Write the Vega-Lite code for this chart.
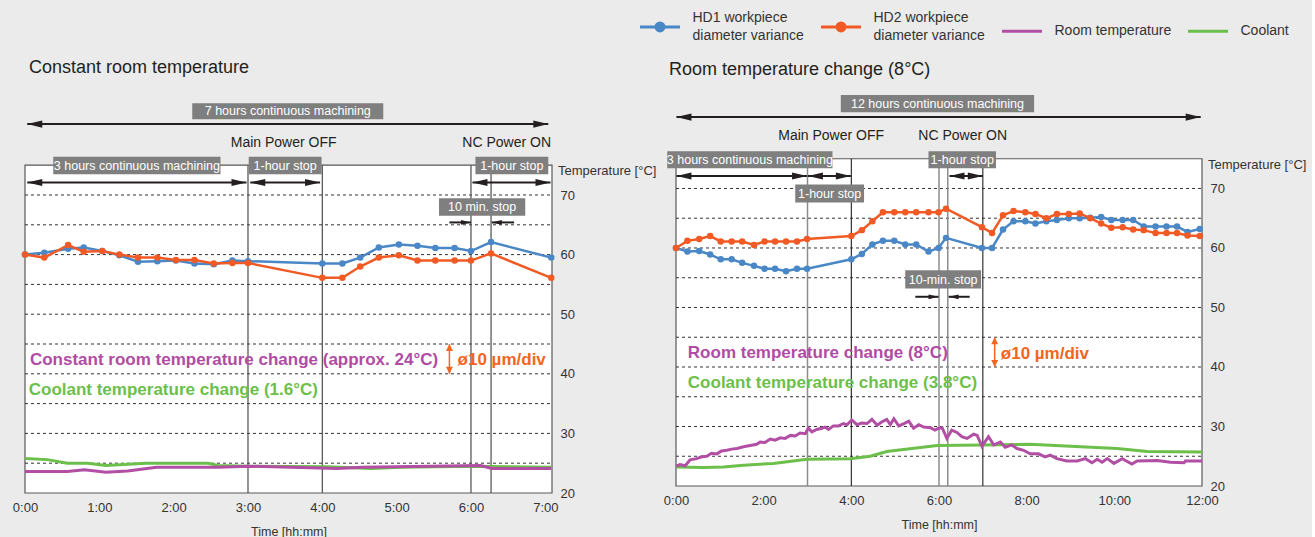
{
"$schema":"https://vega.github.io/schema/vega-lite/v6.json",
"background":"#ebebeb",
"padding":{"left":12,"top":5,"right":5,"bottom":5},
"bounds":"flush",
"spacing":124,
"config":{"view":{"stroke":null},"font":"Liberation Sans","axis":{"labelFont":"Liberation Sans","titleFont":"Liberation Sans"},"legend":{"labelFont":"Liberation Sans"},"text":{"font":"Liberation Sans"},"title":{"font":"Liberation Sans"}},
"datasets":{
"grid":[{"v":25},{"v":30},{"v":35},{"v":40},{"v":45},{"v":50},{"v":55},{"v":60},{"v":65},{"v":70}],
"L_v":[{"t":3},{"t":4},{"t":6},{"t":6.27}],
"R_vg":[{"t":3},{"t":6},{"t":6.2}],
"R_vd":[{"t":4},{"t":7}],
"L_hd":[
{"t":0,"v":60.0,"s":"HD1 workpiece diameter variance"},{"t":0.26,"v":60.3,"s":"HD1 workpiece diameter variance"},{"t":0.58,"v":61.0,"s":"HD1 workpiece diameter variance"},{"t":0.79,"v":61.2,"s":"HD1 workpiece diameter variance"},{"t":1.04,"v":60.6,"s":"HD1 workpiece diameter variance"},{"t":1.27,"v":59.9,"s":"HD1 workpiece diameter variance"},{"t":1.52,"v":58.8,"s":"HD1 workpiece diameter variance"},{"t":1.78,"v":58.9,"s":"HD1 workpiece diameter variance"},{"t":2.03,"v":59.0,"s":"HD1 workpiece diameter variance"},{"t":2.28,"v":58.5,"s":"HD1 workpiece diameter variance"},{"t":2.54,"v":58.4,"s":"HD1 workpiece diameter variance"},{"t":2.79,"v":59.0,"s":"HD1 workpiece diameter variance"},{"t":3.0,"v":58.9,"s":"HD1 workpiece diameter variance"},{"t":4.0,"v":58.5,"s":"HD1 workpiece diameter variance"},{"t":4.27,"v":58.5,"s":"HD1 workpiece diameter variance"},{"t":4.51,"v":59.5,"s":"HD1 workpiece diameter variance"},{"t":4.76,"v":61.2,"s":"HD1 workpiece diameter variance"},{"t":5.03,"v":61.7,"s":"HD1 workpiece diameter variance"},{"t":5.28,"v":61.5,"s":"HD1 workpiece diameter variance"},{"t":5.52,"v":61.1,"s":"HD1 workpiece diameter variance"},{"t":5.78,"v":61.1,"s":"HD1 workpiece diameter variance"},{"t":6.0,"v":60.6,"s":"HD1 workpiece diameter variance"},{"t":6.27,"v":62.1,"s":"HD1 workpiece diameter variance"},{"t":7.08,"v":59.5,"s":"HD1 workpiece diameter variance"},
{"t":0,"v":60.0,"s":"HD2 workpiece diameter variance"},{"t":0.26,"v":59.5,"s":"HD2 workpiece diameter variance"},{"t":0.58,"v":61.6,"s":"HD2 workpiece diameter variance"},{"t":0.79,"v":60.5,"s":"HD2 workpiece diameter variance"},{"t":1.04,"v":60.6,"s":"HD2 workpiece diameter variance"},{"t":1.27,"v":60.0,"s":"HD2 workpiece diameter variance"},{"t":1.52,"v":59.5,"s":"HD2 workpiece diameter variance"},{"t":1.78,"v":59.5,"s":"HD2 workpiece diameter variance"},{"t":2.03,"v":59.1,"s":"HD2 workpiece diameter variance"},{"t":2.28,"v":59.1,"s":"HD2 workpiece diameter variance"},{"t":2.54,"v":58.5,"s":"HD2 workpiece diameter variance"},{"t":2.79,"v":58.6,"s":"HD2 workpiece diameter variance"},{"t":3.0,"v":58.6,"s":"HD2 workpiece diameter variance"},{"t":4.0,"v":56.1,"s":"HD2 workpiece diameter variance"},{"t":4.27,"v":56.1,"s":"HD2 workpiece diameter variance"},{"t":4.51,"v":58.0,"s":"HD2 workpiece diameter variance"},{"t":4.76,"v":59.5,"s":"HD2 workpiece diameter variance"},{"t":5.03,"v":59.9,"s":"HD2 workpiece diameter variance"},{"t":5.28,"v":59.0,"s":"HD2 workpiece diameter variance"},{"t":5.52,"v":59.0,"s":"HD2 workpiece diameter variance"},{"t":5.78,"v":59.0,"s":"HD2 workpiece diameter variance"},{"t":6.0,"v":59.0,"s":"HD2 workpiece diameter variance"},{"t":6.27,"v":60.2,"s":"HD2 workpiece diameter variance"},{"t":7.08,"v":56.1,"s":"HD2 workpiece diameter variance"}],
"L_temp":[
{"t":0,"v":25.8,"s":"Coolant"},{"t":0.3,"v":25.6,"s":"Coolant"},{"t":0.57,"v":25.0,"s":"Coolant"},{"t":0.84,"v":25.0,"s":"Coolant"},{"t":1.09,"v":24.6,"s":"Coolant"},{"t":1.63,"v":25.0,"s":"Coolant"},{"t":2.46,"v":25.0,"s":"Coolant"},{"t":2.6,"v":24.6,"s":"Coolant"},{"t":3.0,"v":24.5,"s":"Coolant"},{"t":4.07,"v":24.4,"s":"Coolant"},{"t":4.66,"v":24.1,"s":"Coolant"},{"t":5.05,"v":24.3,"s":"Coolant"},{"t":6.03,"v":24.5,"s":"Coolant"},{"t":7.08,"v":24.3,"s":"Coolant"},
{"t":0,"v":23.6,"s":"Room temperature"},{"t":0.57,"v":23.6,"s":"Room temperature"},{"t":0.8,"v":23.9,"s":"Room temperature"},{"t":1.09,"v":23.5,"s":"Room temperature"},{"t":1.38,"v":23.7,"s":"Room temperature"},{"t":1.77,"v":24.3,"s":"Room temperature"},{"t":2.6,"v":24.3,"s":"Room temperature"},{"t":3.0,"v":24.5,"s":"Room temperature"},{"t":4.2,"v":24.1,"s":"Room temperature"},{"t":4.54,"v":24.3,"s":"Room temperature"},{"t":6.13,"v":24.6,"s":"Room temperature"},{"t":6.28,"v":24.1,"s":"Room temperature"},{"t":7.08,"v":24.1,"s":"Room temperature"}],
"R_hd":[
{"t":0,"v":60.0,"s":"HD1 workpiece diameter variance"},{"t":0.26,"v":59.4,"s":"HD1 workpiece diameter variance"},{"t":0.53,"v":59.5,"s":"HD1 workpiece diameter variance"},{"t":0.78,"v":58.9,"s":"HD1 workpiece diameter variance"},{"t":1.02,"v":58.1,"s":"HD1 workpiece diameter variance"},{"t":1.27,"v":58.1,"s":"HD1 workpiece diameter variance"},{"t":1.51,"v":57.5,"s":"HD1 workpiece diameter variance"},{"t":1.78,"v":57.0,"s":"HD1 workpiece diameter variance"},{"t":2.02,"v":56.5,"s":"HD1 workpiece diameter variance"},{"t":2.26,"v":56.5,"s":"HD1 workpiece diameter variance"},{"t":2.51,"v":56.1,"s":"HD1 workpiece diameter variance"},{"t":2.76,"v":56.5,"s":"HD1 workpiece diameter variance"},{"t":2.99,"v":56.5,"s":"HD1 workpiece diameter variance"},{"t":4.0,"v":58.1,"s":"HD1 workpiece diameter variance"},{"t":4.24,"v":59.0,"s":"HD1 workpiece diameter variance"},{"t":4.48,"v":60.6,"s":"HD1 workpiece diameter variance"},{"t":4.72,"v":61.2,"s":"HD1 workpiece diameter variance"},{"t":4.98,"v":61.2,"s":"HD1 workpiece diameter variance"},{"t":5.23,"v":60.6,"s":"HD1 workpiece diameter variance"},{"t":5.48,"v":60.6,"s":"HD1 workpiece diameter variance"},{"t":5.76,"v":59.4,"s":"HD1 workpiece diameter variance"},{"t":5.99,"v":60.0,"s":"HD1 workpiece diameter variance"},{"t":6.16,"v":61.7,"s":"HD1 workpiece diameter variance"},{"t":6.98,"v":60.0,"s":"HD1 workpiece diameter variance"},{"t":7.21,"v":60.0,"s":"HD1 workpiece diameter variance"},{"t":7.46,"v":63.1,"s":"HD1 workpiece diameter variance"},{"t":7.7,"v":64.5,"s":"HD1 workpiece diameter variance"},{"t":7.97,"v":64.5,"s":"HD1 workpiece diameter variance"},{"t":8.2,"v":64.1,"s":"HD1 workpiece diameter variance"},{"t":8.45,"v":64.5,"s":"HD1 workpiece diameter variance"},{"t":8.69,"v":64.7,"s":"HD1 workpiece diameter variance"},{"t":8.96,"v":65.0,"s":"HD1 workpiece diameter variance"},{"t":9.21,"v":65.0,"s":"HD1 workpiece diameter variance"},{"t":9.45,"v":65.1,"s":"HD1 workpiece diameter variance"},{"t":9.7,"v":65.2,"s":"HD1 workpiece diameter variance"},{"t":9.93,"v":64.7,"s":"HD1 workpiece diameter variance"},{"t":10.19,"v":64.7,"s":"HD1 workpiece diameter variance"},{"t":10.43,"v":64.7,"s":"HD1 workpiece diameter variance"},{"t":10.67,"v":63.6,"s":"HD1 workpiece diameter variance"},{"t":10.94,"v":63.6,"s":"HD1 workpiece diameter variance"},{"t":11.19,"v":63.6,"s":"HD1 workpiece diameter variance"},{"t":11.43,"v":63.6,"s":"HD1 workpiece diameter variance"},{"t":11.67,"v":62.7,"s":"HD1 workpiece diameter variance"},{"t":11.95,"v":63.2,"s":"HD1 workpiece diameter variance"},
{"t":0,"v":60.0,"s":"HD2 workpiece diameter variance"},{"t":0.26,"v":61.2,"s":"HD2 workpiece diameter variance"},{"t":0.53,"v":61.5,"s":"HD2 workpiece diameter variance"},{"t":0.78,"v":62.0,"s":"HD2 workpiece diameter variance"},{"t":1.02,"v":61.1,"s":"HD2 workpiece diameter variance"},{"t":1.27,"v":61.1,"s":"HD2 workpiece diameter variance"},{"t":1.51,"v":61.1,"s":"HD2 workpiece diameter variance"},{"t":1.78,"v":60.5,"s":"HD2 workpiece diameter variance"},{"t":2.02,"v":61.1,"s":"HD2 workpiece diameter variance"},{"t":2.26,"v":61.1,"s":"HD2 workpiece diameter variance"},{"t":2.51,"v":61.1,"s":"HD2 workpiece diameter variance"},{"t":2.76,"v":61.1,"s":"HD2 workpiece diameter variance"},{"t":2.99,"v":61.5,"s":"HD2 workpiece diameter variance"},{"t":4.0,"v":62.0,"s":"HD2 workpiece diameter variance"},{"t":4.24,"v":63.0,"s":"HD2 workpiece diameter variance"},{"t":4.48,"v":64.5,"s":"HD2 workpiece diameter variance"},{"t":4.72,"v":66.0,"s":"HD2 workpiece diameter variance"},{"t":4.98,"v":66.0,"s":"HD2 workpiece diameter variance"},{"t":5.23,"v":66.0,"s":"HD2 workpiece diameter variance"},{"t":5.48,"v":66.0,"s":"HD2 workpiece diameter variance"},{"t":5.76,"v":66.0,"s":"HD2 workpiece diameter variance"},{"t":5.99,"v":66.0,"s":"HD2 workpiece diameter variance"},{"t":6.16,"v":66.6,"s":"HD2 workpiece diameter variance"},{"t":6.98,"v":63.5,"s":"HD2 workpiece diameter variance"},{"t":7.21,"v":62.5,"s":"HD2 workpiece diameter variance"},{"t":7.46,"v":65.5,"s":"HD2 workpiece diameter variance"},{"t":7.7,"v":66.2,"s":"HD2 workpiece diameter variance"},{"t":7.97,"v":66.0,"s":"HD2 workpiece diameter variance"},{"t":8.2,"v":65.7,"s":"HD2 workpiece diameter variance"},{"t":8.45,"v":65.0,"s":"HD2 workpiece diameter variance"},{"t":8.69,"v":65.7,"s":"HD2 workpiece diameter variance"},{"t":8.96,"v":65.7,"s":"HD2 workpiece diameter variance"},{"t":9.21,"v":65.8,"s":"HD2 workpiece diameter variance"},{"t":9.45,"v":65.0,"s":"HD2 workpiece diameter variance"},{"t":9.7,"v":64.1,"s":"HD2 workpiece diameter variance"},{"t":9.93,"v":63.4,"s":"HD2 workpiece diameter variance"},{"t":10.19,"v":63.5,"s":"HD2 workpiece diameter variance"},{"t":10.43,"v":63.1,"s":"HD2 workpiece diameter variance"},{"t":10.67,"v":63.0,"s":"HD2 workpiece diameter variance"},{"t":10.94,"v":62.5,"s":"HD2 workpiece diameter variance"},{"t":11.19,"v":62.5,"s":"HD2 workpiece diameter variance"},{"t":11.43,"v":62.5,"s":"HD2 workpiece diameter variance"},{"t":11.67,"v":62.1,"s":"HD2 workpiece diameter variance"},{"t":11.95,"v":62.0,"s":"HD2 workpiece diameter variance"}],
"R_temp":[
{"t":0,"v":23.2,"s":"Coolant"},{"t":0.62,"v":23.1,"s":"Coolant"},{"t":1.08,"v":23.2,"s":"Coolant"},{"t":1.54,"v":23.5,"s":"Coolant"},{"t":2.22,"v":23.8,"s":"Coolant"},{"t":2.99,"v":24.5,"s":"Coolant"},{"t":3.98,"v":24.6,"s":"Coolant"},{"t":4.43,"v":25.0,"s":"Coolant"},{"t":4.81,"v":25.8,"s":"Coolant"},{"t":5.96,"v":26.8,"s":"Coolant"},{"t":7.0,"v":26.9,"s":"Coolant"},{"t":8.08,"v":27.0,"s":"Coolant"},{"t":9.23,"v":26.6,"s":"Coolant"},{"t":10.07,"v":26.3,"s":"Coolant"},{"t":10.75,"v":25.8,"s":"Coolant"},{"t":12.0,"v":25.7,"s":"Coolant"},
{"t":0,"v":23.35,"s":"Room temperature"},{"t":0.09,"v":23.6,"s":"Room temperature"},{"t":0.21,"v":23.4,"s":"Room temperature"},{"t":0.32,"v":24.4,"s":"Room temperature"},{"t":0.47,"v":24.6,"s":"Room temperature"},{"t":0.59,"v":24.9,"s":"Room temperature"},{"t":0.7,"v":25.0,"s":"Room temperature"},{"t":0.81,"v":25.5,"s":"Room temperature"},{"t":0.93,"v":25.4,"s":"Room temperature"},{"t":1.04,"v":25.9,"s":"Room temperature"},{"t":1.16,"v":26.0,"s":"Room temperature"},{"t":1.27,"v":26.2,"s":"Room temperature"},{"t":1.39,"v":26.3,"s":"Room temperature"},{"t":1.54,"v":26.6,"s":"Room temperature"},{"t":1.69,"v":26.8,"s":"Room temperature"},{"t":1.84,"v":27.0,"s":"Room temperature"},{"t":1.92,"v":27.4,"s":"Room temperature"},{"t":2.03,"v":27.3,"s":"Room temperature"},{"t":2.15,"v":27.9,"s":"Room temperature"},{"t":2.26,"v":27.7,"s":"Room temperature"},{"t":2.38,"v":28.1,"s":"Room temperature"},{"t":2.49,"v":28.0,"s":"Room temperature"},{"t":2.61,"v":28.5,"s":"Room temperature"},{"t":2.72,"v":28.4,"s":"Room temperature"},{"t":2.83,"v":28.9,"s":"Room temperature"},{"t":2.95,"v":28.8,"s":"Room temperature"},{"t":3.02,"v":29.7,"s":"Room temperature"},{"t":3.1,"v":29.1,"s":"Room temperature"},{"t":3.21,"v":29.5,"s":"Room temperature"},{"t":3.33,"v":29.7,"s":"Room temperature"},{"t":3.4,"v":29.9,"s":"Room temperature"},{"t":3.48,"v":29.5,"s":"Room temperature"},{"t":3.59,"v":30.1,"s":"Room temperature"},{"t":3.71,"v":30.1,"s":"Room temperature"},{"t":3.82,"v":30.5,"s":"Room temperature"},{"t":3.9,"v":30.3,"s":"Room temperature"},{"t":4.01,"v":31.1,"s":"Room temperature"},{"t":4.13,"v":30.3,"s":"Room temperature"},{"t":4.24,"v":30.6,"s":"Room temperature"},{"t":4.36,"v":30.5,"s":"Room temperature"},{"t":4.47,"v":31.2,"s":"Room temperature"},{"t":4.59,"v":30.2,"s":"Room temperature"},{"t":4.7,"v":30.8,"s":"Room temperature"},{"t":4.81,"v":31.2,"s":"Room temperature"},{"t":4.89,"v":30.3,"s":"Room temperature"},{"t":4.97,"v":31.3,"s":"Room temperature"},{"t":5.08,"v":30.1,"s":"Room temperature"},{"t":5.2,"v":30.5,"s":"Room temperature"},{"t":5.31,"v":30.9,"s":"Room temperature"},{"t":5.42,"v":29.7,"s":"Room temperature"},{"t":5.54,"v":30.3,"s":"Room temperature"},{"t":5.65,"v":29.9,"s":"Room temperature"},{"t":5.8,"v":29.8,"s":"Room temperature"},{"t":5.91,"v":29.4,"s":"Room temperature"},{"t":5.99,"v":29.7,"s":"Room temperature"},{"t":6.07,"v":29.8,"s":"Room temperature"},{"t":6.18,"v":28.0,"s":"Room temperature"},{"t":6.29,"v":29.4,"s":"Room temperature"},{"t":6.41,"v":29.0,"s":"Room temperature"},{"t":6.52,"v":28.3,"s":"Room temperature"},{"t":6.64,"v":28.0,"s":"Room temperature"},{"t":6.79,"v":28.7,"s":"Room temperature"},{"t":6.87,"v":28.5,"s":"Room temperature"},{"t":6.98,"v":26.7,"s":"Room temperature"},{"t":7.13,"v":28.3,"s":"Room temperature"},{"t":7.25,"v":26.9,"s":"Room temperature"},{"t":7.4,"v":27.4,"s":"Room temperature"},{"t":7.51,"v":26.5,"s":"Room temperature"},{"t":7.66,"v":26.9,"s":"Room temperature"},{"t":7.78,"v":26.3,"s":"Room temperature"},{"t":7.93,"v":26.0,"s":"Room temperature"},{"t":8.08,"v":25.4,"s":"Room temperature"},{"t":8.27,"v":25.4,"s":"Room temperature"},{"t":8.42,"v":24.9,"s":"Room temperature"},{"t":8.54,"v":25.2,"s":"Room temperature"},{"t":8.69,"v":24.6,"s":"Room temperature"},{"t":8.92,"v":24.2,"s":"Room temperature"},{"t":9.15,"v":24.2,"s":"Room temperature"},{"t":9.34,"v":24.6,"s":"Room temperature"},{"t":9.49,"v":23.9,"s":"Room temperature"},{"t":9.61,"v":24.5,"s":"Room temperature"},{"t":9.72,"v":24.0,"s":"Room temperature"},{"t":9.84,"v":24.6,"s":"Room temperature"},{"t":9.99,"v":23.8,"s":"Room temperature"},{"t":10.18,"v":24.6,"s":"Room temperature"},{"t":10.4,"v":23.7,"s":"Room temperature"},{"t":10.52,"v":24.2,"s":"Room temperature"},{"t":10.98,"v":24.3,"s":"Room temperature"},{"t":11.28,"v":24.0,"s":"Room temperature"},{"t":11.59,"v":23.9,"s":"Room temperature"},{"t":11.62,"v":24.2,"s":"Room temperature"},{"t":11.81,"v":24.2,"s":"Room temperature"},{"t":12.0,"v":24.2,"s":"Room temperature"}],
"L_box":[
{"a":2.25,"b":4.82,"y1":82.7,"y2":85.4,"mx":3.535,"my":84.05,"label":"7 hours continuous machining"},
{"a":0.38,"b":2.63,"y1":73.5,"y2":76.4,"mx":1.505,"my":74.95,"label":"3 hours continuous machining"},
{"a":3.01,"b":3.99,"y1":73.5,"y2":76.4,"mx":3.5,"my":74.95,"label":"1-hour stop"},
{"a":6.06,"b":7.04,"y1":73.5,"y2":76.4,"mx":6.55,"my":74.95,"label":"1-hour stop"},
{"a":5.57,"b":6.73,"y1":66.5,"y2":69.45,"mx":6.15,"my":67.97,"label":"10 min. stop"}],
"L_arr":[
{"a":0.03,"b":7.04,"y":81.9,"both":true,"small":false},
{"a":0.03,"b":2.98,"y":72.1,"both":true,"small":false},
{"a":3.03,"b":3.97,"y":72.1,"both":true,"small":false},
{"a":6.02,"b":7.07,"y":72.1,"both":true,"small":false},
{"a":5.71,"b":6.0,"y":65.4,"both":false,"small":true},
{"a":6.58,"b":6.28,"y":65.4,"both":false,"small":true}],
"L_note":[{"t":3.48,"v":78.8,"label":"Main Power OFF"},{"t":6.48,"v":78.8,"label":"NC Power ON"}],
"L_col":[
{"t":0.066,"v":42.3,"kind":"room","label":"Constant room temperature change (approx. 24°C)"},
{"t":0.05,"v":37.3,"kind":"coolant","label":"Coolant temperature change (1.6°C)"},
{"t":5.82,"v":42.3,"kind":"scale","label":"ø10 µm/div"}],
"L_sc":[{"t":5.71,"lo":40,"hi":45}],
"R_box":[
{"a":3.76,"b":8.17,"y1":82.8,"y2":85.7,"mx":5.965,"my":84.25,"label":"12 hours continuous machining"},
{"a":-0.2,"b":3.57,"y1":73.4,"y2":76.25,"mx":1.685,"my":74.8,"label":"3 hours continuous machining"},
{"a":5.76,"b":7.3,"y1":73.4,"y2":76.25,"mx":6.53,"my":74.8,"label":"1-hour stop"},
{"a":2.72,"b":4.29,"y1":67.63,"y2":70.65,"mx":3.505,"my":69.14,"label":"1-hour stop"},
{"a":5.23,"b":6.96,"y1":53.2,"y2":56.25,"mx":6.095,"my":54.7,"label":"10-min. stop"}],
"R_arr":[
{"a":0.01,"b":11.97,"y":82.0,"both":true,"small":false},
{"a":0.01,"b":2.99,"y":72.1,"both":true,"small":false},
{"a":3.01,"b":3.99,"y":72.1,"both":true,"small":false},
{"a":6.24,"b":7.0,"y":72.1,"both":true,"small":false},
{"a":5.46,"b":5.99,"y":51.8,"both":false,"small":true},
{"a":6.7,"b":6.22,"y":51.8,"both":false,"small":true}],
"R_note":[{"t":3.54,"v":78.9,"label":"Main Power OFF"},{"t":6.54,"v":78.9,"label":"NC Power ON"}],
"R_col":[
{"t":0.27,"v":42.3,"kind":"room","label":"Room temperature change (8°C)"},
{"t":0.27,"v":37.3,"kind":"coolant","label":"Coolant temperature change (3.8°C)"},
{"t":7.41,"v":42.1,"kind":"scale","label":"ø10 µm/div"}],
"R_sc":[{"t":7.27,"lo":40,"hi":45}]
},
"hconcat":[
{
"width":527,"height":403,
"title":{"text":"Constant room temperature","anchor":"start","frame":"group","baseline":"middle","offset":3.7,"dx":4,"fontSize":18,"fontWeight":"normal","color":"#231f20"},
"layer":[
{"data":{"values":[{}]},"mark":{"type":"rect","fill":"white","stroke":"#595959","strokeWidth":1.2},
"encoding":{"x":{"datum":0,"type":"quantitative","scale":{"domain":[0,7.09],"nice":false,"zero":false}},
"x2":{"datum":7.09},
"y":{"datum":20,"type":"quantitative","scale":{"domain":[20,87.62],"nice":false,"zero":false}},
"y2":{"datum":75}}},
{"data":{"name":"grid"},"mark":{"type":"rule","strokeDash":[3,3],"color":"#333","strokeWidth":1},
"encoding":{"y":{"field":"v","type":"quantitative","scale":{"domain":[20,87.62],"nice":false,"zero":false}},"x":{"datum":0,"type":"quantitative","scale":{"domain":[0,7.09],"nice":false,"zero":false}},"x2":{"datum":7.09}}},
{"data":{"name":"L_v"},"mark":{"type":"rule","color":"#4d4d4d","strokeWidth":1.2},
"encoding":{"x":{"field":"t","type":"quantitative","scale":{"domain":[0,7.09],"nice":false,"zero":false}},"y":{"datum":20,"type":"quantitative","scale":{"domain":[20,87.62],"nice":false,"zero":false}},"y2":{"datum":75}}},
{"data":{"name":"L_temp"},"mark":{"type":"line","strokeWidth":3},
"encoding":{"x":{"field":"t","type":"quantitative","scale":{"domain":[0,7.09],"nice":false,"zero":false},"axis":{"values":[0,1,2,3,4,5,6,7],"labelExpr":"datum.value + ':00'","title":"Time [hh:mm]","domain":false,"ticks":false,"grid":false,"labelPadding":8,"labelFontSize":13,"labelColor":"#333","labelFlush":false,"titleFontSize":12.5,"titleFontWeight":"normal","titleColor":"#333","titlePadding":11}},
"y":{"field":"v","type":"quantitative","scale":{"domain":[20,87.62],"nice":false,"zero":false},"axis":{"orient":"right","values":[20,30,40,50,60,70],"title":null,"domain":false,"ticks":false,"grid":false,"labelPadding":8,"labelFontSize":13,"labelColor":"#333"}},
"color":{"field":"s","type":"nominal","scale":{"domain":["HD1 workpiece diameter variance","HD2 workpiece diameter variance","Room temperature","Coolant"],"range":["#4a87c6","#f15a24","#b24fa5","#6cbf4a"]},"legend":{"orient":"none","legendX":613.5,"legendY":-85,"direction":"horizontal","columns":4,"title":null,"labelFontSize":14,"labelColor":"#333","labelLimit":400,"symbolSize":1600,"symbolStrokeWidth":3,"columnPadding":10,"labelOffset":11,"labelExpr":"datum.label == 'Room temperature' || datum.label == 'Coolant' ? datum.label : [substring(datum.label, 0, 13), substring(datum.label, 14)]","encode":{"labels":{"update":{"lineHeight":{"value":17.5},"dy":{"signal":"datum.value == 'Room temperature' || datum.value == 'Coolant' ? 0 : -8.75"}}},"symbols":{"update":{"shape":{"signal":"datum.value == 'Room temperature' || datum.value == 'Coolant' ? 'M-1,0H1' : 'M-1,0H1M-0.2,0A0.2,0.2 0 1,1 0.2,0A0.2,0.2 0 1,1 -0.2,0Z'"},"fill":{"signal":"datum.value == 'Room temperature' || datum.value == 'Coolant' ? 'transparent' : scale('color', datum.value)"}}}}}}}},
{"data":{"name":"L_hd"},"mark":{"type":"line","strokeWidth":2.5,"point":{"filled":true,"size":42}},
"encoding":{"x":{"field":"t","type":"quantitative","scale":{"domain":[0,7.09],"nice":false,"zero":false}},"y":{"field":"v","type":"quantitative","scale":{"domain":[20,87.62],"nice":false,"zero":false}},
"color":{"field":"s","type":"nominal","scale":{"domain":["HD1 workpiece diameter variance","HD2 workpiece diameter variance","Room temperature","Coolant"],"range":["#4a87c6","#f15a24","#b24fa5","#6cbf4a"]},"legend":{"orient":"none","legendX":613.5,"legendY":-85,"direction":"horizontal","columns":4,"title":null,"labelFontSize":14,"labelColor":"#333","labelLimit":400,"symbolSize":1600,"symbolStrokeWidth":3,"columnPadding":10,"labelOffset":11,"labelExpr":"datum.label == 'Room temperature' || datum.label == 'Coolant' ? datum.label : [substring(datum.label, 0, 13), substring(datum.label, 14)]","encode":{"labels":{"update":{"lineHeight":{"value":17.5},"dy":{"signal":"datum.value == 'Room temperature' || datum.value == 'Coolant' ? 0 : -8.75"}}},"symbols":{"update":{"shape":{"signal":"datum.value == 'Room temperature' || datum.value == 'Coolant' ? 'M-1,0H1' : 'M-1,0H1M-0.2,0A0.2,0.2 0 1,1 0.2,0A0.2,0.2 0 1,1 -0.2,0Z'"},"fill":{"signal":"datum.value == 'Room temperature' || datum.value == 'Coolant' ? 'transparent' : scale('color', datum.value)"}}}}}}}},
{"data":{"name":"L_box"},"mark":{"type":"rect","fill":"#7f7f7f"},
"encoding":{"x":{"field":"a","type":"quantitative","scale":{"domain":[0,7.09],"nice":false,"zero":false}},"x2":{"field":"b"},"y":{"field":"y1","type":"quantitative","scale":{"domain":[20,87.62],"nice":false,"zero":false}},"y2":{"field":"y2"}}},
{"data":{"name":"L_box"},"mark":{"type":"text","color":"white","fontSize":12.5,"align":"center","baseline":"middle"},
"encoding":{"x":{"field":"mx","type":"quantitative","scale":{"domain":[0,7.09],"nice":false,"zero":false}},"y":{"field":"my","type":"quantitative","scale":{"domain":[20,87.62],"nice":false,"zero":false}},"text":{"field":"label"}}},
{"data":{"name":"L_arr"},"mark":{"type":"rule","color":"#231f20","strokeWidth":2},
"encoding":{"x":{"field":"a","type":"quantitative","scale":{"domain":[0,7.09],"nice":false,"zero":false}},"x2":{"field":"b"},"y":{"field":"y","type":"quantitative","scale":{"domain":[20,87.62],"nice":false,"zero":false}}}},
{"data":{"name":"L_arr"},"mark":{"type":"point","filled":true,"color":"#231f20","opacity":1,"strokeWidth":0},
"encoding":{"x":{"field":"b","type":"quantitative","scale":{"domain":[0,7.09],"nice":false,"zero":false}},"y":{"field":"y","type":"quantitative","scale":{"domain":[20,87.62],"nice":false,"zero":false}},
"shape":{"condition":{"test":"datum.b > datum.a","value":"M0,0L-1,-0.24L-1,0.24Z"},"value":"M0,0L1,-0.24L1,0.24Z"},
"size":{"condition":{"test":"datum.small","value":400},"value":900}}},
{"data":{"name":"L_arr"},"transform":[{"filter":"datum.both"}],"mark":{"type":"point","filled":true,"color":"#231f20","opacity":1,"strokeWidth":0},
"encoding":{"x":{"field":"a","type":"quantitative","scale":{"domain":[0,7.09],"nice":false,"zero":false}},"y":{"field":"y","type":"quantitative","scale":{"domain":[20,87.62],"nice":false,"zero":false}},
"shape":{"condition":{"test":"datum.b > datum.a","value":"M0,0L1,-0.24L1,0.24Z"},"value":"M0,0L-1,-0.24L-1,0.24Z"},
"size":{"value":900}}},
{"data":{"name":"L_note"},"mark":{"type":"text","color":"#231f20","fontSize":14,"align":"center","baseline":"middle"},
"encoding":{"x":{"field":"t","type":"quantitative","scale":{"domain":[0,7.09],"nice":false,"zero":false}},"y":{"field":"v","type":"quantitative","scale":{"domain":[20,87.62],"nice":false,"zero":false}},"text":{"field":"label"}}},
{"data":{"name":"L_col"},"mark":{"type":"text","fontSize":17,"fontWeight":"bold","align":"left","baseline":"middle"},
"encoding":{"x":{"field":"t","type":"quantitative","scale":{"domain":[0,7.09],"nice":false,"zero":false}},"y":{"field":"v","type":"quantitative","scale":{"domain":[20,87.62],"nice":false,"zero":false}},"text":{"field":"label"},
"fill":{"field":"kind","type":"nominal","scale":{"domain":["room","coolant","scale"],"range":["#b04ca4","#6cbf4a","#f26522"]},"legend":null}}},
{"data":{"name":"L_sc"},"mark":{"type":"rule","color":"#f26522","strokeWidth":1.5},
"encoding":{"x":{"field":"t","type":"quantitative","scale":{"domain":[0,7.09],"nice":false,"zero":false}},"y":{"field":"lo","type":"quantitative","scale":{"domain":[20,87.62],"nice":false,"zero":false}},"y2":{"field":"hi"}}},
{"data":{"name":"L_sc"},"mark":{"type":"point","filled":true,"color":"#f26522","opacity":1,"strokeWidth":0,"shape":"M0,0L-0.5,1L0.5,1Z","size":196},
"encoding":{"x":{"field":"t","type":"quantitative","scale":{"domain":[0,7.09],"nice":false,"zero":false}},"y":{"field":"hi","type":"quantitative","scale":{"domain":[20,87.62],"nice":false,"zero":false}}}},
{"data":{"name":"L_sc"},"mark":{"type":"point","filled":true,"color":"#f26522","opacity":1,"strokeWidth":0,"shape":"M0,0L-0.5,-1L0.5,-1Z","size":196},
"encoding":{"x":{"field":"t","type":"quantitative","scale":{"domain":[0,7.09],"nice":false,"zero":false}},"y":{"field":"lo","type":"quantitative","scale":{"domain":[20,87.62],"nice":false,"zero":false}}}},
{"data":{"values":[{"label":"Temperature [°C]"}]},"mark":{"type":"text","align":"left","baseline":"middle","dx":6,"fontSize":13,"color":"#333"},
"encoding":{"x":{"datum":7.09,"type":"quantitative","scale":{"domain":[0,7.09],"nice":false,"zero":false}},"y":{"datum":74,"type":"quantitative","scale":{"domain":[20,87.62],"nice":false,"zero":false}},"text":{"field":"label"}}}
]},
{
"width":526,"height":396,
"title":{"text":"Room temperature change (8°C)","anchor":"start","frame":"group","baseline":"middle","offset":2,"dx":-7,"fontSize":18,"fontWeight":"normal","color":"#231f20"},
"layer":[
{"data":{"values":[{}]},"mark":{"type":"rect","fill":"white","stroke":"#595959","strokeWidth":1.2},
"encoding":{"x":{"datum":0,"type":"quantitative","scale":{"domain":[0,12],"nice":false,"zero":false}},
"x2":{"datum":12},
"y":{"datum":20,"type":"quantitative","scale":{"domain":[20,86.55],"nice":false,"zero":false}},
"y2":{"datum":75}}},
{"data":{"name":"grid"},"mark":{"type":"rule","strokeDash":[3,3],"color":"#333","strokeWidth":1},
"encoding":{"y":{"field":"v","type":"quantitative","scale":{"domain":[20,86.55],"nice":false,"zero":false}},"x":{"datum":0,"type":"quantitative","scale":{"domain":[0,12],"nice":false,"zero":false}},"x2":{"datum":12}}},
{"data":{"name":"R_vg"},"mark":{"type":"rule","color":"#8c8c8c","strokeWidth":1.5},
"encoding":{"x":{"field":"t","type":"quantitative","scale":{"domain":[0,12],"nice":false,"zero":false}},"y":{"datum":20,"type":"quantitative","scale":{"domain":[20,86.55],"nice":false,"zero":false}},"y2":{"datum":75}}},
{"data":{"name":"R_vd"},"mark":{"type":"rule","color":"#231f20","strokeWidth":1.1},
"encoding":{"x":{"field":"t","type":"quantitative","scale":{"domain":[0,12],"nice":false,"zero":false}},"y":{"datum":20,"type":"quantitative","scale":{"domain":[20,86.55],"nice":false,"zero":false}},"y2":{"datum":75}}},
{"data":{"name":"R_temp"},"mark":{"type":"line","strokeWidth":3},
"encoding":{"x":{"field":"t","type":"quantitative","scale":{"domain":[0,12],"nice":false,"zero":false},"axis":{"values":[0,2,4,6,8,10,12],"labelExpr":"datum.value + ':00'","title":"Time [hh:mm]","domain":false,"ticks":false,"grid":false,"labelPadding":8,"labelFontSize":13,"labelColor":"#333","labelFlush":false,"titleFontSize":12.5,"titleFontWeight":"normal","titleColor":"#333","titlePadding":11}},
"y":{"field":"v","type":"quantitative","scale":{"domain":[20,86.55],"nice":false,"zero":false},"axis":{"orient":"right","values":[20,30,40,50,60,70],"title":null,"domain":false,"ticks":false,"grid":false,"labelPadding":8,"labelFontSize":13,"labelColor":"#333"}},
"color":{"field":"s","type":"nominal","scale":{"domain":["HD1 workpiece diameter variance","HD2 workpiece diameter variance","Room temperature","Coolant"],"range":["#4a87c6","#f15a24","#b24fa5","#6cbf4a"]},"legend":{"orient":"none","legendX":613.5,"legendY":-85,"direction":"horizontal","columns":4,"title":null,"labelFontSize":14,"labelColor":"#333","labelLimit":400,"symbolSize":1600,"symbolStrokeWidth":3,"columnPadding":10,"labelOffset":11,"labelExpr":"datum.label == 'Room temperature' || datum.label == 'Coolant' ? datum.label : [substring(datum.label, 0, 13), substring(datum.label, 14)]","encode":{"labels":{"update":{"lineHeight":{"value":17.5},"dy":{"signal":"datum.value == 'Room temperature' || datum.value == 'Coolant' ? 0 : -8.75"}}},"symbols":{"update":{"shape":{"signal":"datum.value == 'Room temperature' || datum.value == 'Coolant' ? 'M-1,0H1' : 'M-1,0H1M-0.2,0A0.2,0.2 0 1,1 0.2,0A0.2,0.2 0 1,1 -0.2,0Z'"},"fill":{"signal":"datum.value == 'Room temperature' || datum.value == 'Coolant' ? 'transparent' : scale('color', datum.value)"}}}}}}}},
{"data":{"name":"R_hd"},"mark":{"type":"line","strokeWidth":2.5,"point":{"filled":true,"size":42}},
"encoding":{"x":{"field":"t","type":"quantitative","scale":{"domain":[0,12],"nice":false,"zero":false}},"y":{"field":"v","type":"quantitative","scale":{"domain":[20,86.55],"nice":false,"zero":false}},
"color":{"field":"s","type":"nominal","scale":{"domain":["HD1 workpiece diameter variance","HD2 workpiece diameter variance","Room temperature","Coolant"],"range":["#4a87c6","#f15a24","#b24fa5","#6cbf4a"]},"legend":{"orient":"none","legendX":613.5,"legendY":-85,"direction":"horizontal","columns":4,"title":null,"labelFontSize":14,"labelColor":"#333","labelLimit":400,"symbolSize":1600,"symbolStrokeWidth":3,"columnPadding":10,"labelOffset":11,"labelExpr":"datum.label == 'Room temperature' || datum.label == 'Coolant' ? datum.label : [substring(datum.label, 0, 13), substring(datum.label, 14)]","encode":{"labels":{"update":{"lineHeight":{"value":17.5},"dy":{"signal":"datum.value == 'Room temperature' || datum.value == 'Coolant' ? 0 : -8.75"}}},"symbols":{"update":{"shape":{"signal":"datum.value == 'Room temperature' || datum.value == 'Coolant' ? 'M-1,0H1' : 'M-1,0H1M-0.2,0A0.2,0.2 0 1,1 0.2,0A0.2,0.2 0 1,1 -0.2,0Z'"},"fill":{"signal":"datum.value == 'Room temperature' || datum.value == 'Coolant' ? 'transparent' : scale('color', datum.value)"}}}}}}}},
{"data":{"name":"R_box"},"mark":{"type":"rect","fill":"#7f7f7f"},
"encoding":{"x":{"field":"a","type":"quantitative","scale":{"domain":[0,12],"nice":false,"zero":false}},"x2":{"field":"b"},"y":{"field":"y1","type":"quantitative","scale":{"domain":[20,86.55],"nice":false,"zero":false}},"y2":{"field":"y2"}}},
{"data":{"name":"R_box"},"mark":{"type":"text","color":"white","fontSize":12.5,"align":"center","baseline":"middle"},
"encoding":{"x":{"field":"mx","type":"quantitative","scale":{"domain":[0,12],"nice":false,"zero":false}},"y":{"field":"my","type":"quantitative","scale":{"domain":[20,86.55],"nice":false,"zero":false}},"text":{"field":"label"}}},
{"data":{"name":"R_arr"},"mark":{"type":"rule","color":"#231f20","strokeWidth":2},
"encoding":{"x":{"field":"a","type":"quantitative","scale":{"domain":[0,12],"nice":false,"zero":false}},"x2":{"field":"b"},"y":{"field":"y","type":"quantitative","scale":{"domain":[20,86.55],"nice":false,"zero":false}}}},
{"data":{"name":"R_arr"},"mark":{"type":"point","filled":true,"color":"#231f20","opacity":1,"strokeWidth":0},
"encoding":{"x":{"field":"b","type":"quantitative","scale":{"domain":[0,12],"nice":false,"zero":false}},"y":{"field":"y","type":"quantitative","scale":{"domain":[20,86.55],"nice":false,"zero":false}},
"shape":{"condition":{"test":"datum.b > datum.a","value":"M0,0L-1,-0.24L-1,0.24Z"},"value":"M0,0L1,-0.24L1,0.24Z"},
"size":{"condition":{"test":"datum.small","value":400},"value":900}}},
{"data":{"name":"R_arr"},"transform":[{"filter":"datum.both"}],"mark":{"type":"point","filled":true,"color":"#231f20","opacity":1,"strokeWidth":0},
"encoding":{"x":{"field":"a","type":"quantitative","scale":{"domain":[0,12],"nice":false,"zero":false}},"y":{"field":"y","type":"quantitative","scale":{"domain":[20,86.55],"nice":false,"zero":false}},
"shape":{"condition":{"test":"datum.b > datum.a","value":"M0,0L1,-0.24L1,0.24Z"},"value":"M0,0L-1,-0.24L-1,0.24Z"},
"size":{"value":900}}},
{"data":{"name":"R_note"},"mark":{"type":"text","color":"#231f20","fontSize":14,"align":"center","baseline":"middle"},
"encoding":{"x":{"field":"t","type":"quantitative","scale":{"domain":[0,12],"nice":false,"zero":false}},"y":{"field":"v","type":"quantitative","scale":{"domain":[20,86.55],"nice":false,"zero":false}},"text":{"field":"label"}}},
{"data":{"name":"R_col"},"mark":{"type":"text","fontSize":17,"fontWeight":"bold","align":"left","baseline":"middle"},
"encoding":{"x":{"field":"t","type":"quantitative","scale":{"domain":[0,12],"nice":false,"zero":false}},"y":{"field":"v","type":"quantitative","scale":{"domain":[20,86.55],"nice":false,"zero":false}},"text":{"field":"label"},
"fill":{"field":"kind","type":"nominal","scale":{"domain":["room","coolant","scale"],"range":["#b04ca4","#6cbf4a","#f26522"]},"legend":null}}},
{"data":{"name":"R_sc"},"mark":{"type":"rule","color":"#f26522","strokeWidth":1.5},
"encoding":{"x":{"field":"t","type":"quantitative","scale":{"domain":[0,12],"nice":false,"zero":false}},"y":{"field":"lo","type":"quantitative","scale":{"domain":[20,86.55],"nice":false,"zero":false}},"y2":{"field":"hi"}}},
{"data":{"name":"R_sc"},"mark":{"type":"point","filled":true,"color":"#f26522","opacity":1,"strokeWidth":0,"shape":"M0,0L-0.5,1L0.5,1Z","size":196},
"encoding":{"x":{"field":"t","type":"quantitative","scale":{"domain":[0,12],"nice":false,"zero":false}},"y":{"field":"hi","type":"quantitative","scale":{"domain":[20,86.55],"nice":false,"zero":false}}}},
{"data":{"name":"R_sc"},"mark":{"type":"point","filled":true,"color":"#f26522","opacity":1,"strokeWidth":0,"shape":"M0,0L-0.5,-1L0.5,-1Z","size":196},
"encoding":{"x":{"field":"t","type":"quantitative","scale":{"domain":[0,12],"nice":false,"zero":false}},"y":{"field":"lo","type":"quantitative","scale":{"domain":[20,86.55],"nice":false,"zero":false}}}},
{"data":{"values":[{"label":"Temperature [°C]"}]},"mark":{"type":"text","align":"left","baseline":"middle","dx":6,"fontSize":13,"color":"#333"},
"encoding":{"x":{"datum":12,"type":"quantitative","scale":{"domain":[0,12],"nice":false,"zero":false}},"y":{"datum":74,"type":"quantitative","scale":{"domain":[20,86.55],"nice":false,"zero":false}},"text":{"field":"label"}}}
]}
]
}
